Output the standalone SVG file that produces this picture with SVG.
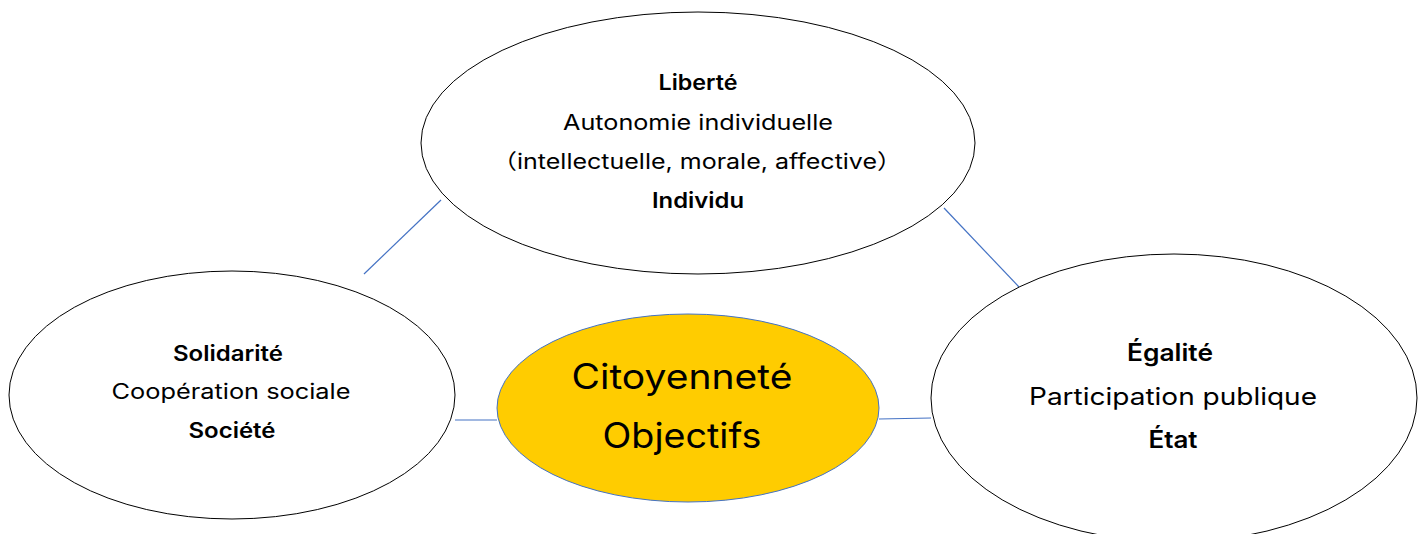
<svg xmlns="http://www.w3.org/2000/svg" width="1426" height="534" viewBox="0 0 1426 534">
<style>
.node{fill:#ffffff;stroke:#000000;stroke-width:1}
.core{fill:#FFCC00;stroke:#4472C4;stroke-width:1}
.conn{stroke:#4472C4;stroke-width:1.2;fill:none}
text{font-family:"Inter","Liberation Sans","Noto Sans CJK SC",sans-serif;fill:#000000;text-anchor:middle}
.b{font-weight:600}
.r{font-weight:400}
</style>
<rect width="1426" height="534" fill="#ffffff"/>
<g id="connectors">
<line class="conn" x1="364" y1="274" x2="441" y2="200"/>
<line class="conn" x1="944" y1="208" x2="1019" y2="287"/>
<line class="conn" x1="455" y1="420" x2="497" y2="420"/>
<line class="conn" x1="879" y1="419" x2="931" y2="418"/>
</g>
<g id="liberte">
<ellipse class="node" cx="698" cy="143" rx="277" ry="131"/>
<text class="b" x="698" y="90" font-size="21" textLength="79" lengthAdjust="spacingAndGlyphs">Liberté</text>
<text class="r" x="698" y="130" font-size="21" textLength="270" lengthAdjust="spacingAndGlyphs">Autonomie individuelle</text>
<text class="r" x="697" y="169" font-size="21" textLength="410" lengthAdjust="spacingAndGlyphs">（intellectuelle, morale, affective）</text>
<text class="b" x="698" y="208" font-size="21" textLength="92" lengthAdjust="spacingAndGlyphs">Individu</text>
</g>
<g id="solidarite">
<ellipse class="node" cx="232" cy="395" rx="223" ry="124"/>
<text class="b" x="228" y="361" font-size="21" textLength="110" lengthAdjust="spacingAndGlyphs">Solidarité</text>
<text class="r" x="231" y="399" font-size="21" textLength="239" lengthAdjust="spacingAndGlyphs">Coopération sociale</text>
<text class="b" x="232" y="438" font-size="21" textLength="87" lengthAdjust="spacingAndGlyphs">Société</text>
</g>
<g id="egalite">
<ellipse class="node" cx="1174" cy="398" rx="243" ry="144"/>
<text class="b" x="1170" y="361" font-size="24" textLength="86" lengthAdjust="spacingAndGlyphs">Égalité</text>
<text class="r" x="1173" y="405" font-size="24" textLength="288" lengthAdjust="spacingAndGlyphs">Participation publique</text>
<text class="b" x="1173" y="448" font-size="24" textLength="49" lengthAdjust="spacingAndGlyphs">État</text>
</g>
<g id="citoyennete">
<ellipse class="core" cx="688" cy="408" rx="191" ry="94"/>
<text class="r" x="682" y="389" font-size="35" font-weight="500" textLength="221" lengthAdjust="spacingAndGlyphs">Citoyenneté</text>
<text class="r" x="682" y="448" font-size="35" font-weight="500" textLength="159" lengthAdjust="spacingAndGlyphs">Objectifs</text>
</g>
</svg>
